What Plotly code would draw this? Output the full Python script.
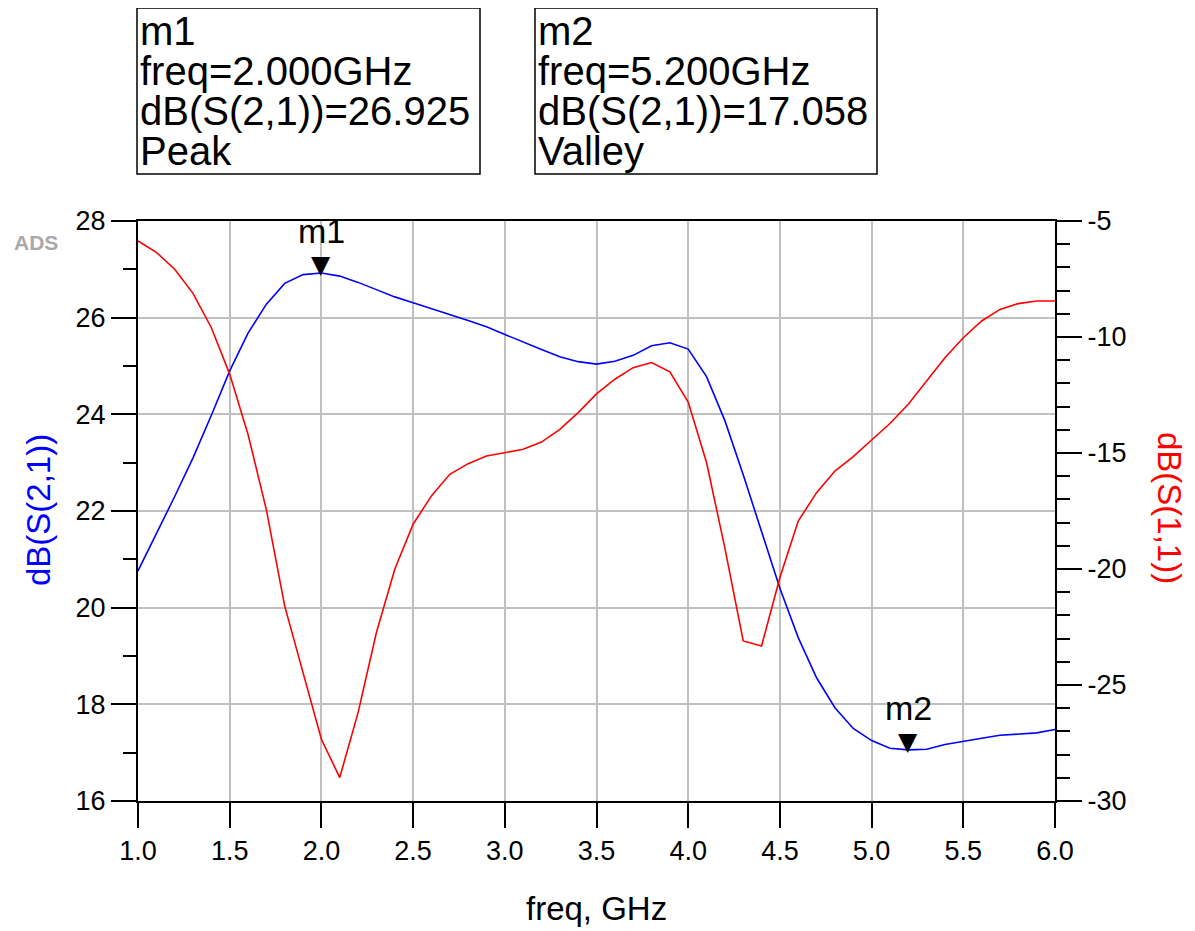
import plotly.graph_objects as go

# ---------------- data ----------------
freq_ghz = [1.0, 1.1, 1.2, 1.3, 1.4, 1.5, 1.6, 1.7, 1.8, 1.9,
            2.0, 2.1, 2.2, 2.3, 2.4, 2.5, 2.6, 2.7, 2.8, 2.9,
            3.0, 3.1, 3.2, 3.3, 3.4, 3.5, 3.6, 3.7, 3.8, 3.9,
            4.0, 4.1, 4.2, 4.3, 4.4, 4.5, 4.6, 4.7, 4.8, 4.9,
            5.0, 5.1, 5.2, 5.3, 5.4, 5.5, 5.6, 5.7, 5.8, 5.9, 6.0]

s21_db = [20.76, 21.52, 22.30, 23.10, 23.98, 24.90, 25.68, 26.28, 26.71, 26.89,
          26.925, 26.86, 26.73, 26.58, 26.43, 26.31, 26.19, 26.06, 25.94, 25.81,
          25.65, 25.49, 25.34, 25.19, 25.09, 25.04, 25.10, 25.22, 25.42, 25.48,
          25.35, 24.78, 23.87, 22.75, 21.55, 20.40, 19.38, 18.55, 17.93, 17.50,
          17.25, 17.09, 17.058, 17.07, 17.17, 17.24, 17.30, 17.36, 17.38, 17.41, 17.48]

s11_db = [-5.86, -6.35, -7.08, -8.12, -9.60, -11.60, -14.20, -17.45, -21.60, -24.50,
          -27.34, -28.99, -26.19, -22.74, -20.01, -18.07, -16.85, -15.92, -15.46, -15.13,
          -14.98, -14.84, -14.53, -13.98, -13.26, -12.45, -11.82, -11.32, -11.10, -11.50,
          -12.80, -15.41, -19.10, -23.10, -23.32, -20.37, -17.93, -16.71, -15.78, -15.16,
          -14.44, -13.73, -12.90, -11.90, -10.89, -10.03, -9.31, -8.81, -8.56, -8.45, -8.45]

x_tickvals = [1.0, 1.5, 2.0, 2.5, 3.0, 3.5, 4.0, 4.5, 5.0, 5.5, 6.0]
x_ticktext = ["1.0", "1.5", "2.0", "2.5", "3.0", "3.5", "4.0", "4.5", "5.0", "5.5", "6.0"]
y_tickvals = [16, 18, 20, 22, 24, 26, 28]
y2_tickvals = [-30, -25, -20, -15, -10, -5]
y2_ticktext = ["-30", "-25", "-20", "-15", "-10", "-5"]

markers = [
    {"name": "m1", "freq": 2.0, "value": 26.925, "kind": "Peak"},
    {"name": "m2", "freq": 5.2, "value": 17.058, "kind": "Valley"},
]

# ---------------- layout geometry (screen pixels) ----------------
OFF = 8                      # default page body margin
SCREEN_W, SCREEN_H = 1195, 931
PLOT_L, PLOT_R, PLOT_T, PLOT_B = 138, 1055, 221, 801
W, H = SCREEN_W - OFF, SCREEN_H - OFF
ML, MT = PLOT_L - OFF, PLOT_T - OFF
MR, MB = SCREEN_W - PLOT_R, SCREEN_H - PLOT_B
PW, PH = PLOT_R - PLOT_L, PLOT_B - PLOT_T

def px2x(px):
    return (px - PLOT_L) / PW

def py2y(py):
    return (PLOT_B - py) / PH

FONT = "Liberation Sans, Arial, sans-serif"

fig = go.Figure()
fig.add_trace(go.Scatter(x=freq_ghz, y=s21_db, mode="lines",
                         line=dict(color="#0000ff", width=1.6), yaxis="y",
                         name="dB(S(2,1))", showlegend=False))
fig.add_trace(go.Scatter(x=freq_ghz, y=s11_db, mode="lines",
                         line=dict(color="#ff0000", width=1.6), yaxis="y2",
                         name="dB(S(1,1))", showlegend=False))

annotations = []
shapes = []

# marker triangles and labels on the curve
for m in markers:
    annotations.append(dict(x=m["freq"], y=m["value"], xref="x", yref="y",
                            text="▼", showarrow=False, xanchor="center", yanchor="bottom",
                            yshift=-8, font=dict(family="DejaVu Sans", size=25, color="black")))
    annotations.append(dict(x=m["freq"], y=m["value"], xref="x", yref="y",
                            text=m["name"], showarrow=False, xanchor="center", yanchor="middle",
                            yshift=42, font=dict(family=FONT, size=34, color="black")))

# marker readout boxes
box_left_px = [137, 535]
box_right_px = [480, 877]
box_top_px, box_bot_px = 8, 174
line_centers_px = [31, 71, 111, 151]
for i, m in enumerate(markers):
    shapes.append(dict(type="rect", xref="paper", yref="paper",
                       x0=px2x(box_left_px[i]), x1=px2x(box_right_px[i]),
                       y0=py2y(box_bot_px), y1=py2y(box_top_px),
                       line=dict(color="black", width=1.5), fillcolor="rgba(0,0,0,0)"))
    lines = [m["name"], "freq=%.3fGHz" % m["freq"],
             "dB(S(2,1))=%.3f" % m["value"], m["kind"]]
    for txt, cy in zip(lines, line_centers_px):
        annotations.append(dict(x=px2x(box_left_px[i] + 1), y=py2y(cy),
                                xref="paper", yref="paper", xanchor="left",
                                yanchor="middle", text=txt, showarrow=False,
                                font=dict(family=FONT, size=40, color="black")))

# axis titles
annotations.append(dict(x=px2x(38), y=py2y(510), xref="paper", yref="paper",
                        xanchor="center", yanchor="middle",
                        text="dB(S(2,1))", textangle=-90, showarrow=False,
                        font=dict(family=FONT, size=33, color="#0000ff")))
annotations.append(dict(x=px2x(1170), y=py2y(508), xref="paper", yref="paper",
                        xanchor="center", yanchor="middle",
                        text="dB(S(1,1))", textangle=90, showarrow=False,
                        font=dict(family=FONT, size=33, color="#ff0000")))
annotations.append(dict(x=px2x(596), y=py2y(908), xref="paper", yref="paper",
                        xanchor="center", yanchor="middle",
                        text="freq, GHz", showarrow=False,
                        font=dict(family=FONT, size=33, color="black")))
annotations.append(dict(x=px2x(36), y=py2y(242), xref="paper", yref="paper",
                        xanchor="center", yanchor="middle",
                        text="<b>ADS</b>", showarrow=False,
                        font=dict(family=FONT, size=21, color="#a8a8a8")))

fig.update_layout(
    width=W, height=H,
    margin=dict(l=ML, r=MR, t=MT, b=MB, autoexpand=False),
    paper_bgcolor="white", plot_bgcolor="white",
    font=dict(family=FONT, color="black"),
    showlegend=False,
    xaxis=dict(range=[1.0, 6.0], tickvals=x_tickvals, ticktext=x_ticktext,
               ticks="outside", ticklen=25, tickwidth=1.5, tickcolor="black",
               showline=True, linecolor="black", linewidth=2, mirror=True,
               showgrid=True, gridcolor="#c0c0c0", gridwidth=1.5,
               zeroline=False, tickfont=dict(size=27, family=FONT)),
    yaxis=dict(range=[16, 28], tickvals=y_tickvals,
               ticks="outside", ticklen=25, tickwidth=1.5, tickcolor="black",
               showline=True, linecolor="black", linewidth=2,
               showgrid=True, gridcolor="#c0c0c0", gridwidth=1.5,
               zeroline=False, tickfont=dict(size=27, family=FONT),
               minor=dict(dtick=1, ticks="outside", ticklen=13, tickwidth=1.5,
                          tickcolor="black", showgrid=False)),
    yaxis2=dict(range=[-30, -5], overlaying="y", side="right",
                tickvals=y2_tickvals, ticktext=y2_ticktext,
                ticks="outside", ticklen=25, tickwidth=1.5, tickcolor="black",
                showline=True, linecolor="black", linewidth=2,
                showgrid=False, zeroline=False,
                tickfont=dict(size=27, family=FONT),
                minor=dict(dtick=1, ticks="outside", ticklen=13, tickwidth=1.5,
                           tickcolor="black", showgrid=False)),
    annotations=annotations,
    shapes=shapes,
)

fig.write_html("out.html")
